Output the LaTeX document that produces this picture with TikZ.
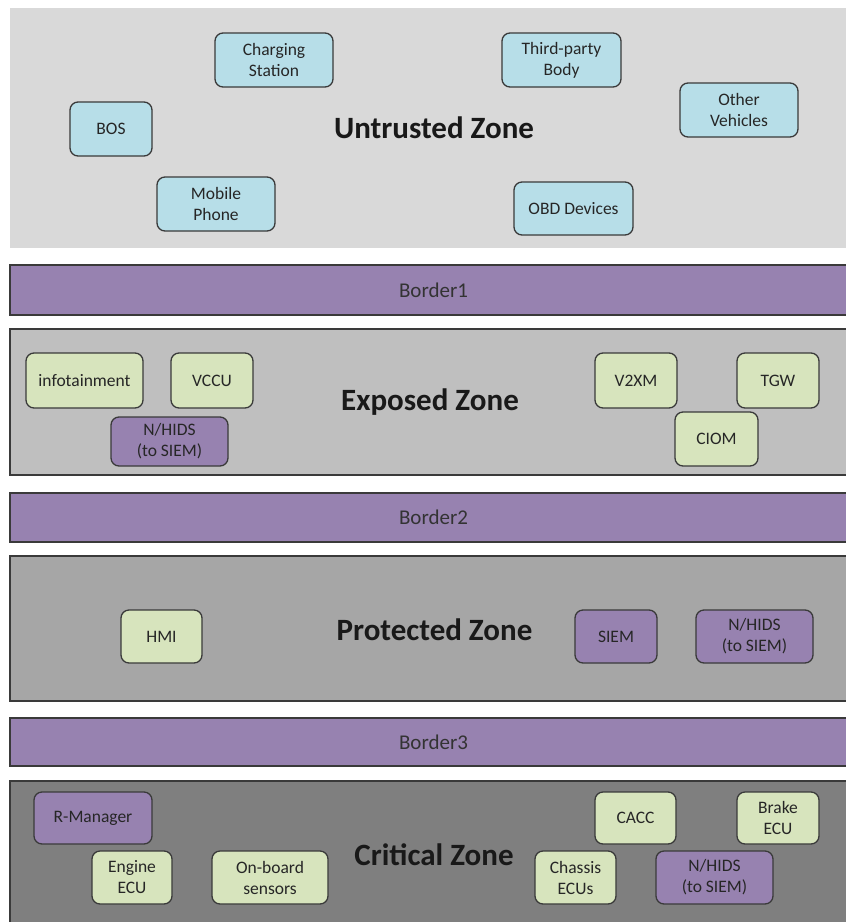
\documentclass[tikz,border=0pt]{standalone}
\usepackage{fontspec}
\setmainfont{Carlito}
\definecolor{zuntrusted}{HTML}{D9D9D9}
\definecolor{zexposed}{HTML}{BFBFBF}
\definecolor{zprotected}{HTML}{A6A6A6}
\definecolor{zcritical}{HTML}{7F7F7F}
\definecolor{purp}{HTML}{9782B0}
\definecolor{lblue}{HTML}{B7DEE8}
\definecolor{lgreen}{HTML}{D7E4BD}
\definecolor{edge}{HTML}{3A3A3A}
\begin{document}
\begin{tikzpicture}[x=1pt,y=-1pt,
  comp/.style={draw=edge, line width=1.3pt, rounded corners=8pt, align=center,
    inner sep=0pt, font=\fontsize{17.5}{21}\selectfont, text=black!85},
  bluebox/.style={comp, fill=lblue},
  greenbox/.style={comp, fill=lgreen},
  purpbox/.style={comp, fill=purp},
  zonelabel/.style={font=\fontsize{31}{36}\selectfont\bfseries, text=black!90},
  barlabel/.style={font=\fontsize{21}{25}\selectfont, text=black!80},
  bar/.style={fill=purp, draw=edge, line width=1.4pt},
  zone/.style={draw=edge, line width=1.4pt}]
\useasboundingbox (0,0) rectangle (846,922);
\fill[white] (0,0) rectangle (846,922);

% zones and borders
\fill[zuntrusted] (10,8) rectangle (852,248);
\path[bar] (10,265) rectangle (852,315);
\path[zone, fill=zexposed] (10,329) rectangle (852,475);
\path[bar] (10,493) rectangle (852,542);
\path[zone, fill=zprotected] (10,556) rectangle (852,701);
\path[bar] (10,718) rectangle (852,766);
\path[zone, fill=zcritical] (10,781) rectangle (852,930);

\node[barlabel] (b1) at (433.5,290) {Border1};
\node[barlabel] (b2) at (433.5,517.5) {Border2};
\node[barlabel] (b3) at (433.5,742) {Border3};

% Untrusted zone
\node[zonelabel] (lu) at (434,128) {Untrusted Zone};
\node[bluebox, minimum width=118pt, minimum height=54pt] (cs) at (274,60) {Charging\\Station};
\node[bluebox, minimum width=82pt, minimum height=54pt] (bos) at (111,129) {BOS};
\node[bluebox, minimum width=118pt, minimum height=54pt] (mp) at (216,204) {Mobile\\Phone};
\node[bluebox, minimum width=119pt, minimum height=54pt] (tpb) at (561.5,60) {Third-party\\Body};
\node[bluebox, minimum width=118pt, minimum height=54pt] (ov) at (739,110) {Other\\Vehicles};
\node[bluebox, minimum width=119pt, minimum height=53pt] (obd) at (573.5,208.5) {OBD Devices};

% Exposed zone
\node[zonelabel] (le) at (430,402) {Exposed Zone};
\node[greenbox, minimum width=117pt, minimum height=55pt] (info) at (84.5,380.5) {infotainment};
\node[greenbox, minimum width=82pt, minimum height=55pt] (vccu) at (212,380.5) {VCCU};
\node[purpbox, minimum width=117pt, minimum height=49pt] (nh1) at (169.5,441.5) {N/HIDS\\(to SIEM)};
\node[greenbox, minimum width=82pt, minimum height=55pt] (v2xm) at (636,380.5) {V2XM};
\node[greenbox, minimum width=82pt, minimum height=55pt] (tgw) at (778,380.5) {TGW};
\node[greenbox, minimum width=83pt, minimum height=54pt] (ciom) at (716.5,439) {CIOM};

% Protected zone
\node[zonelabel] (lp) at (434.5,630) {Protected Zone};
\node[greenbox, minimum width=81pt, minimum height=53pt] (hmi) at (161.5,636.5) {HMI};
\node[purpbox, minimum width=82pt, minimum height=53pt] (siem) at (616,636.5) {SIEM};
\node[purpbox, minimum width=117pt, minimum height=53pt] (nh2) at (754.5,636.5) {N/HIDS\\(to SIEM)};

% Critical zone
\node[zonelabel] (lc) at (434,855) {Critical Zone};
\node[purpbox, minimum width=118pt, minimum height=52pt] (rm) at (93,818) {R-Manager};
\node[greenbox, minimum width=80pt, minimum height=53pt] (eecu) at (132,877.5) {Engine\\ECU};
\node[greenbox, minimum width=116pt, minimum height=53pt] (obs) at (270,877.5) {On-board\\sensors};
\node[greenbox, minimum width=81pt, minimum height=52pt] (cacc) at (635.5,818) {CACC};
\node[greenbox, minimum width=82pt, minimum height=52pt] (brake) at (778,818) {Brake\\ECU};
\node[greenbox, minimum width=81pt, minimum height=53pt] (chassis) at (575.5,877.5) {Chassis\\ECUs};
\node[purpbox, minimum width=117pt, minimum height=53pt] (nh3) at (714.5,877.5) {N/HIDS\\(to SIEM)};
\end{tikzpicture}
\end{document}
